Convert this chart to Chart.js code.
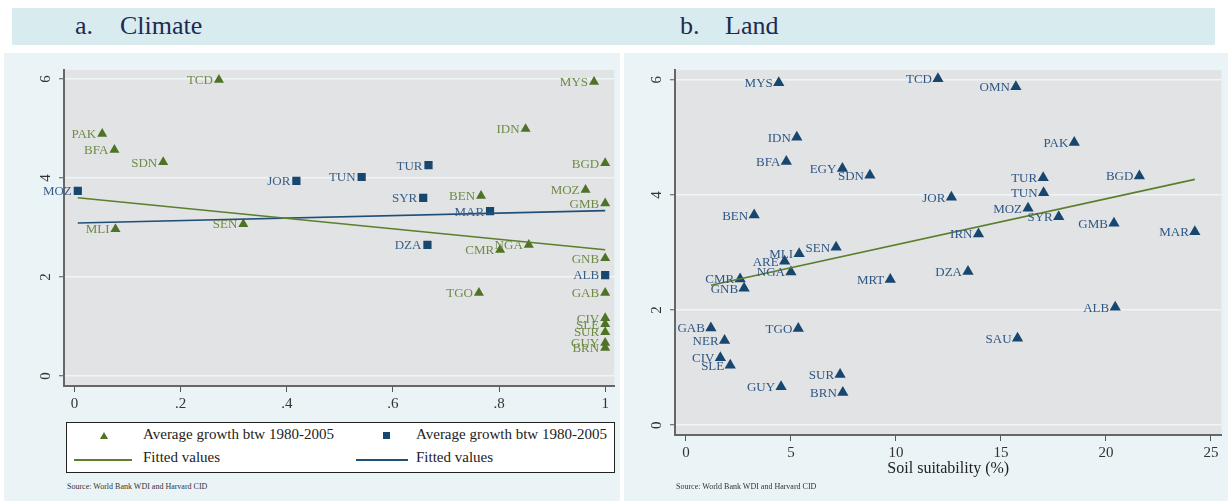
<!DOCTYPE html>
<html>
<head>
<meta charset="utf-8">
<script src="https://cdn.jsdelivr.net/npm/chart.js@4/dist/chart.umd.min.js"></script>
<style>
  body { margin: 0; width: 1228px; height: 501px; position: relative; background: #fff; overflow: hidden; font-family: "Liberation Serif", serif; }
  .hdr { position: absolute; left: 12px; top: 8px; width: 1203px; height: 37px; background: #d8ebef; }
  .hdr span { position: absolute; top: 3px; font-size: 26px; color: #1e2a4f; }
  .panel { position: absolute; top: 53px; height: 448px; background: #eaf3f6; }
  .box { position: absolute; }
  .legend { position: absolute; left: 66px; top: 422px; width: 547px; height: 49px; background: #fff; border: 1px solid #222; font-size: 15px; color: #222; }
  .legend span { position: absolute; }
  .src { position: absolute; top: 482px; font-size: 8px; color: #333; }
</style>
</head>
<body>
<div class="hdr">
  <span style="left:63px">a.</span><span style="left:108px">Climate</span>
  <span style="left:668px">b.</span><span style="left:713px">Land</span>
</div>
<div class="panel" style="left:4px;width:616px"></div>
<div class="panel" style="left:624px;width:604px"></div>

<div class="box" style="left:5px;top:53px;width:615px;height:367px"><canvas id="climateChart"></canvas></div>
<div class="box" style="left:624px;top:53px;width:604px;height:430px"><canvas id="landChart"></canvas></div>

<div class="legend">
  <span style="left:33px;top:9px;width:0;height:0;border-left:4px solid transparent;border-right:4px solid transparent;border-bottom:7px solid #4f7326"></span>
  <span style="left:76px;top:3px">Average growth btw 1980-2005</span>
  <span style="left:316px;top:9px;width:7px;height:7px;background:#17466f"></span>
  <span style="left:349px;top:3px">Average growth btw 1980-2005</span>
  <span style="left:7px;top:36px;width:58px;height:2px;background:#5b7f2c"></span>
  <span style="left:76px;top:26px">Fitted values</span>
  <span style="left:289px;top:36px;width:52px;height:2px;background:#1f4e79"></span>
  <span style="left:349px;top:26px">Fitted values</span>
</div>
<div class="src" style="left:67px">Source: World Bank WDI and Harvard CID</div>
<div class="src" style="left:676px">Source: World Bank WDI and Harvard CID</div>

<script>
// Panel a: climate
const climGreenCodes = ["TCD", "PAK", "BFA", "SDN", "MLI", "SEN", "MYS", "IDN", "BGD", "BEN", "MOZ", "GMB", "NGA", "CMR", "GNB", "TGO", "GAB", "CIV", "SLE", "SUR", "GUY", "BRN"];
const climGreenX = [0.272, 0.052, 0.075, 0.167, 0.077, 0.318, 0.979, 0.85, 1, 0.766, 0.963, 1, 0.856, 0.802, 1, 0.762, 1, 1, 1, 1, 1, 1];
const climGreenY = [5.98, 4.89, 4.57, 4.32, 2.97, 3.07, 5.94, 4.99, 4.30, 3.64, 3.76, 3.49, 2.65, 2.55, 2.38, 1.68, 1.68, 1.17, 1.05, 0.89, 0.67, 0.57];

const climBlueCodes = ["MOZ", "JOR", "TUN", "TUR", "SYR", "MAR", "DZA", "ALB"];
const climBlueX = [0.006, 0.418, 0.541, 0.667, 0.657, 0.783, 0.665, 1];
const climBlueY = [3.74, 3.94, 4.02, 4.26, 3.60, 3.33, 2.65, 2.04];

const climGreenFitX = [0.006, 1];
const climGreenFitY = [3.60, 2.55];
const climBlueFitX = [0.006, 1];
const climBlueFitY = [3.09, 3.34];

const climXTicks = [0, 0.2, 0.4, 0.6, 0.8, 1];
const climXLabels = ["0", ".2", ".4", ".6", ".8", "1"];
const growthTicks = [0, 2, 4, 6];

// Panel b: land
const landCodes = ["MYS", "IDN", "BFA", "EGY", "SDN", "BEN", "SEN", "MLI", "TCD", "OMN", "PAK", "TUR", "BGD", "TUN", "JOR", "MOZ", "SYR", "GMB", "MAR", "IRN", "ARE", "NGA", "CMR", "GNB", "MRT", "GAB", "TGO", "NER", "CIV", "SLE", "SUR", "GUY", "BRN", "DZA", "ALB", "SAU"];
const landX = [4.42, 5.28, 4.78, 7.45, 8.76, 3.25, 7.15, 5.39, 12.0, 15.71, 18.49, 17.01, 21.59, 17.03, 12.64, 16.29, 17.75, 20.38, 24.23, 13.93, 4.70, 5.0, 2.58, 2.77, 9.73, 1.19, 5.35, 1.84, 1.64, 2.11, 7.34, 4.53, 7.47, 13.43, 20.44, 15.79];
const landY = [5.95, 5.00, 4.58, 4.46, 4.34, 3.65, 3.09, 2.98, 6.02, 5.88, 4.91, 4.30, 4.33, 4.04, 3.96, 3.77, 3.62, 3.51, 3.36, 3.32, 2.85, 2.66, 2.54, 2.38, 2.53, 1.69, 1.68, 1.47, 1.17, 1.04, 0.88, 0.67, 0.57, 2.67, 2.05, 1.51];

const landFitX = [1.19, 24.23];
const landFitY = [2.43, 4.27];

const landXTicks = [0, 5, 10, 15, 20, 25];

const serif = '"Liberation Serif", serif';
const toPoints = (xs, ys) => xs.map((x, i) => ({ x: x, y: ys[i] }));

// gray plot region
const plotBg = {
  id: "plotBg",
  beforeDraw(chart) {
    const a = chart.chartArea;
    chart.ctx.save();
    chart.ctx.fillStyle = "#e2e3e5";
    chart.ctx.fillRect(a.left, a.top, a.right - a.left, a.bottom - a.top);
    chart.ctx.restore();
  }
};

// country codes to the left of each marker
const pointLabels = {
  id: "pointLabels",
  afterDatasetsDraw(chart) {
    const ctx = chart.ctx;
    chart.data.datasets.forEach((ds, i) => {
      if (!ds.codes) return;
      const meta = chart.getDatasetMeta(i);
      ctx.save();
      ctx.font = ds.labelSize + "px " + serif;
      ctx.fillStyle = ds.labelColor;
      ctx.textAlign = "right";
      ctx.textBaseline = "middle";
      meta.data.forEach((pt, j) => ctx.fillText(ds.codes[j], pt.x - 6, pt.y + 1));
      ctx.restore();
    });
  }
};

// Stata style vertical y labels
const rotatedY = {
  id: "rotatedY",
  afterDraw(chart) {
    const y = chart.scales.y;
    const ctx = chart.ctx;
    const x0 = chart.chartArea.left - 18;
    ctx.save();
    ctx.font = "15px " + serif;
    ctx.fillStyle = "#333";
    ctx.textAlign = "center";
    ctx.textBaseline = "middle";
    y.ticks.forEach(t => {
      ctx.save();
      ctx.translate(x0, y.getPixelForValue(t.value));
      ctx.rotate(-Math.PI / 2);
      ctx.fillText(String(t.value), 0, 0);
      ctx.restore();
    });
    ctx.restore();
  }
};

function yScale(min, max, width) {
  return {
    type: "linear",
    min: min,
    max: max,
    afterBuildTicks: s => { s.ticks = growthTicks.map(v => ({ value: v })); },
    afterFit: s => { s.width = width; },
    ticks: { display: false },
    grid: { color: "#f0f6f7", lineWidth: 1.5, tickLength: 5, tickColor: "#555", tickWidth: 1 },
    border: { color: "#666", width: 2 }
  };
}

function xScale(min, max, ticks, labels, height, title) {
  return {
    type: "linear",
    min: min,
    max: max,
    afterBuildTicks: s => { s.ticks = ticks.map(v => ({ value: v })); },
    afterFit: s => { s.height = height; },
    ticks: {
      padding: 3,
      maxRotation: 0,
      color: "#333",
      font: { family: serif, size: 15 },
      callback: v => labels[ticks.indexOf(v)]
    },
    title: title ? { display: true, text: title, color: "#222", font: { family: serif, size: 16 }, padding: { top: 0, bottom: 5 } } : { display: false },
    grid: { drawOnChartArea: false, tickLength: 6, tickColor: "#555", tickWidth: 1 },
    border: { color: "#666", width: 2 }
  };
}

const baseOptions = {
  responsive: true,
  maintainAspectRatio: false,
  animation: false,
  plugins: { legend: { display: false }, tooltip: { enabled: false } }
};

new Chart(document.getElementById("climateChart"), {
  type: "scatter",
  data: {
    datasets: [
      { data: toPoints(climGreenFitX, climGreenFitY), showLine: true, pointRadius: 0, borderColor: "#5b7f2c", borderWidth: 1.6 },
      { data: toPoints(climBlueFitX, climBlueFitY), showLine: true, pointRadius: 0, borderColor: "#1f4e79", borderWidth: 1.6 },
      { data: toPoints(climGreenX, climGreenY), pointStyle: "triangle", pointRadius: 5.8, backgroundColor: "#4f7326", borderColor: "#4f7326", borderWidth: 0,
        codes: climGreenCodes, labelColor: "#6f8b45", labelSize: 13 },
      { data: toPoints(climBlueX, climBlueY), pointStyle: "rect", pointRadius: 5.8, backgroundColor: "#17466f", borderColor: "#17466f", borderWidth: 0,
        codes: climBlueCodes, labelColor: "#375e87", labelSize: 13 }
    ]
  },
  options: Object.assign({}, baseOptions, {
    layout: { padding: { top: 17, right: 2, left: 0, bottom: 0 } },
    scales: {
      x: xScale(-0.02, 1.017, climXTicks, climXLabels, 34, null),
      y: yScale(-0.2, 6.18, 59)
    }
  }),
  plugins: [plotBg, pointLabels, rotatedY]
});

new Chart(document.getElementById("landChart"), {
  type: "scatter",
  data: {
    datasets: [
      { data: toPoints(landFitX, landFitY), showLine: true, pointRadius: 0, borderColor: "#5b7f2c", borderWidth: 1.6 },
      { data: toPoints(landX, landY), pointStyle: "triangle", pointRadius: 6.5, backgroundColor: "#17466f", borderColor: "#17466f", borderWidth: 0,
        codes: landCodes, labelColor: "#2f5784", labelSize: 13 }
    ]
  },
  options: Object.assign({}, baseOptions, {
    layout: { padding: { top: 17, right: 1, left: 0, bottom: 0 } },
    scales: {
      x: xScale(-0.52, 25.5, landXTicks, landXTicks.map(String), 48, "Soil suitability (%)"),
      y: yScale(-0.17, 6.17, 51)
    }
  }),
  plugins: [plotBg, pointLabels, rotatedY]
});
</script>
</body>
</html>
